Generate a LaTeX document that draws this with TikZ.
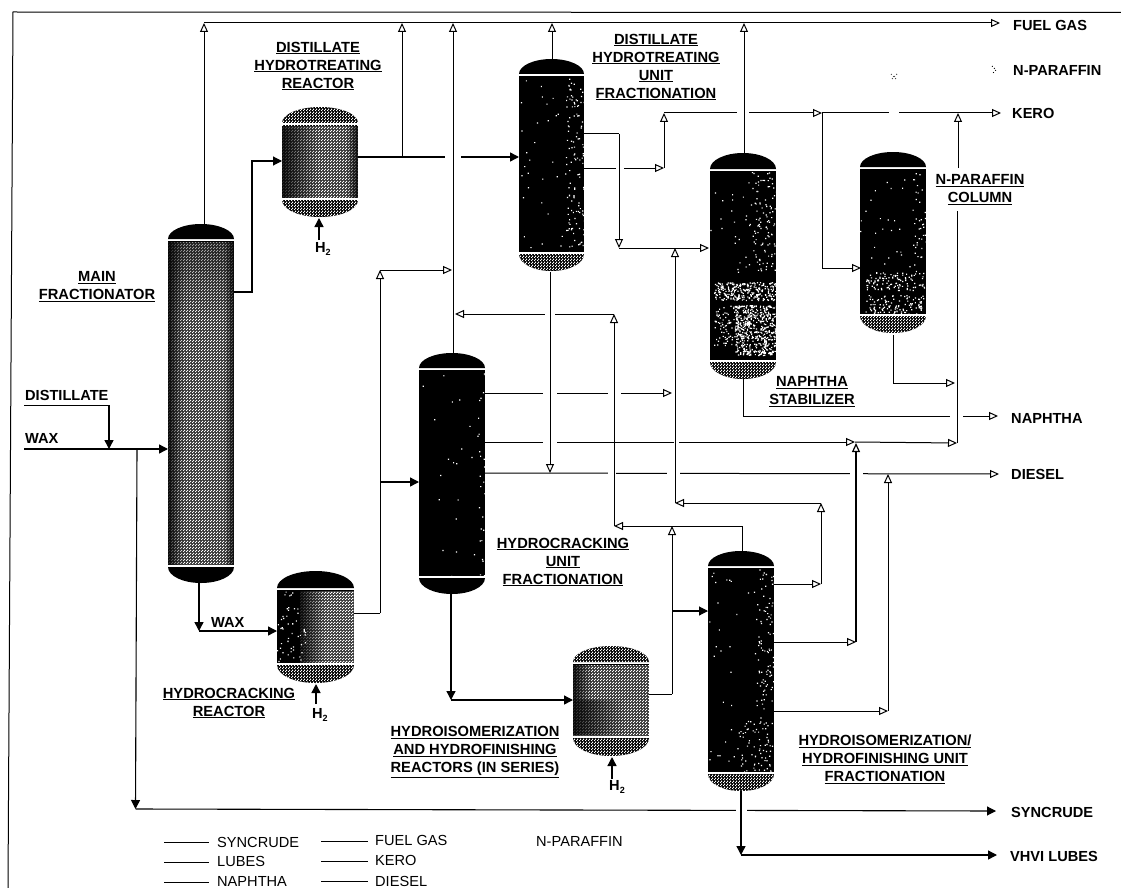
\documentclass[tikz,border=0pt]{standalone}
\usepackage{fontspec}
\setmainfont{Liberation Sans}
\usetikzlibrary{arrows.meta,patterns,fadings}
\pgfdeclarepatternformonly{dither}{\pgfpointorigin}{\pgfqpoint{3pt}{3pt}}{\pgfqpoint{3pt}{3pt}}{%
 \pgfpathrectangle{\pgfqpoint{0pt}{0pt}}{\pgfqpoint{1.45pt}{1.45pt}}%
 \pgfpathrectangle{\pgfqpoint{1.5pt}{1.5pt}}{\pgfqpoint{1.45pt}{1.45pt}}%
 \pgfusepath{fill}}
\tikzset{
 lbl/.style={font=\fontsize{14.7}{18}\selectfont\bfseries,align=center,inner sep=0pt},
 lgd/.style={font=\fontsize{14.6}{18}\selectfont,anchor=west,inner sep=0pt},
 stream/.style={font=\fontsize{14.6}{18}\selectfont\bfseries,anchor=west,inner sep=0pt},
 thin line/.style={line width=1pt,black},
 thick line/.style={line width=1.4pt,black},
 op/.style={thin line,-{Triangle[length=9pt,width=8pt,fill=white]}},
 fl/.style={thick line,-{Triangle[length=9pt,width=9pt]}},
 ht/.style={pattern=dither,pattern color=white},
 gap/.style={fill=white,draw=none},
}
\newcommand{\vessel}[9]{%
 \pgfmathsetmacro{\vw}{(#3-#2)/2}\pgfmathsetmacro{\vh}{#5-#4-1}\pgfmathsetmacro{\vb}{#7-#6-1}%
 \node[minimum width=#3pt-#2pt,minimum height=#7pt-#4pt,inner sep=0pt,outer sep=0pt] (#1) at ({(#2+#3)/2},{(#4+#7)/2}) {};
 \fill[black] (#2,#5+1) rectangle (#3,#6-1);
 \fill[black] (#2,#5-1) arc[start angle=180,end angle=0,x radius=\vw pt,y radius=\vh pt] -- cycle;
 \path[#8] (#2,#5-1) arc[start angle=180,end angle=0,x radius=\vw pt,y radius=\vh pt] -- cycle;
 \fill[black] (#2,#6+1) arc[start angle=180,end angle=360,x radius=\vw pt,y radius=\vb pt] -- cycle;
 \path[#9] (#2,#6+1) arc[start angle=180,end angle=360,x radius=\vw pt,y radius=\vb pt] -- cycle;
}
\newcommand{\halftone}[4]{\fill[ht] (#1,#2) rectangle (#3,#4);\fill[white,opacity=.22] (#1,#2) rectangle (#3,#4);}
\newcommand{\speck}[5]{\fill[white] \foreach \i in {1,...,#5}{ ({#1+rnd*(#3-#1)},{#2+rnd*(#4-#2)}) rectangle ++(1.2,1.2) };}
\newcommand{\darkl}[4]{\fill[black,opacity=.85,path fading=east] (#1,#2) rectangle (#3,#4);}
\newcommand{\darkr}[4]{\fill[black,opacity=.85,path fading=west] (#1,#2) rectangle (#3,#4);}
\newcommand{\darkt}[4]{\fill[black,opacity=.4,path fading=south] (#1,#2) rectangle (#3,#4);}
\begin{document}
\begin{tikzpicture}[x=1pt,y=-1pt]
\pgfmathsetseed{7}
\useasboundingbox (0,0) rectangle (1121,888);
\fill[white] (0,0) rectangle (1121,888);
% frame
\coordinate (fa) at (8,888);\coordinate (fb) at (13,12);\coordinate (fc) at (1121,12.5);
\draw[line width=1pt] (fa) -- (fb) -- (fc);

% ---------- vessels
\vessel{mf}{168}{234}{224}{240}{566}{583}{}{}
\halftone{168}{242}{234}{565}
\darkl{168}{242}{184}{565}\darkr{224}{242}{234}{565}\darkt{168}{242}{234}{320}
\vessel{dhr}{282}{358}{107}{124}{199}{217}{ht}{ht}
\halftone{282}{126}{358}{198}
\darkl{282}{126}{318}{198}\darkr{346}{126}{358}{198}
\vessel{dhf}{519}{584}{59}{75}{253}{271}{}{ht}
\speck{519}{77}{584}{252}{40}\speck{566}{77}{584}{252}{110}
\vessel{hcf}{419}{485}{353}{369}{577}{594}{}{}
\speck{419}{371}{485}{576}{20}\speck{478}{371}{485}{576}{25}
\vessel{hcr}{277}{354}{571}{589}{664}{683}{}{ht}
\halftone{300}{591}{354}{663}
\darkl{300}{591}{325}{663}\speck{277}{591}{305}{663}{50}
\vessel{ns}{710}{776}{153}{170}{361}{379}{}{ht}
\speck{710}{172}{776}{280}{40}\speck{752}{172}{776}{270}{90}
\speck{714}{282}{776}{300}{260}\speck{714}{305}{740}{345}{90}\speck{735}{305}{776}{355}{500}
\vessel{np}{860}{926}{152}{168}{315}{333}{}{ht}
\speck{860}{170}{926}{270}{30}\speck{912}{170}{926}{290}{35}
\speck{865}{272}{924}{290}{110}\speck{865}{295}{924}{314}{110}
\vessel{hir}{573}{649}{646}{663}{737}{756}{ht}{ht}
\halftone{573}{665}{649}{736}
\darkl{573}{700}{625}{735}\darkl{573}{665}{592}{700}
\vessel{hif}{708}{774}{551}{567}{773}{791}{}{ht}
\speck{708}{569}{774}{772}{45}\speck{756}{569}{774}{772}{110}\speck{738}{720}{760}{772}{40}

% ---------- junctions
\coordinate (fg0) at (204,23);\coordinate (fgE) at (1000,23);
\coordinate (dhrE) at (358,157);\coordinate (dhfW) at (519,157);\coordinate (dhrT) at (402,157);\coordinate (fgA) at (402,23);
\coordinate (hcfT) at (453,353);\coordinate (fgB) at (453,23);
\coordinate (dhfT) at (552,59);\coordinate (fgC) at (552,23);
\coordinate (nsT) at (744,153);\coordinate (fgD) at (744,23);
\coordinate (mfT) at (204,224);
\coordinate (mfE) at (234,292);\coordinate (m1) at (252,292);\coordinate (m2) at (252,161);\coordinate (dhrW) at (282,161);
\coordinate (h1) at (319,240);\coordinate (h1a) at (319,218);
\coordinate (h2) at (316,704);\coordinate (h2a) at (316,684);
\coordinate (h3) at (612,779);\coordinate (h3a) at (612,757);
\coordinate (dist) at (24,405);\coordinate (dist1) at (109,405);\coordinate (wax0) at (24,449);\coordinate (waxJ) at (109,449);\coordinate (mfW) at (168,449);
\coordinate (sy0) at (137,449);\coordinate (sy1) at (135.5,809);\coordinate (syE) at (996,811);
\coordinate (mfB) at (199,583);\coordinate (wx1) at (199,631);\coordinate (hcrW) at (277,631);
\coordinate (hcrE) at (354,613);\coordinate (r1) at (380,613);\coordinate (r2) at (380,270);\coordinate (r3) at (452,270);\coordinate (r4) at (380,482);\coordinate (hcfW) at (419,482);
\coordinate (hcfB) at (451,594);\coordinate (b1) at (451,700);\coordinate (hirW) at (573,700);
\coordinate (hirE) at (649,694);\coordinate (i1) at (672,694);\coordinate (i2) at (672,526);\coordinate (i3) at (672,611);\coordinate (hifW) at (708,611);
\coordinate (hifT) at (742,551);\coordinate (j1) at (742,526);\coordinate (j2) at (614,526);\coordinate (j3) at (614,314);\coordinate (j4) at (455,314);
\coordinate (k1) at (774,584);\coordinate (k2) at (821,584);\coordinate (k3) at (821,503);\coordinate (k4) at (675,503);\coordinate (k5) at (675,248);
\coordinate (l1) at (584,134);\coordinate (l2) at (619,134);\coordinate (l3) at (619,248);\coordinate (nsW) at (709,248);
\coordinate (n1) at (584,168);\coordinate (n2) at (664,168);\coordinate (n3) at (664,113);\coordinate (n4) at (822,113);\coordinate (n5) at (1001,113);
\coordinate (n6) at (822,268);\coordinate (npW) at (861,268);
\coordinate (p1) at (893,335);\coordinate (p2) at (893,383);\coordinate (p3) at (955,383);
\coordinate (q0) at (957,443);\coordinate (q1) at (957,211);\coordinate (q2) at (958,168);\coordinate (q3) at (958,113);
\coordinate (s1) at (485,442);\coordinate (s2) at (855,442);
\coordinate (t1) at (485,473);\coordinate (t2) at (999,474);
\coordinate (u1) at (485,393);\coordinate (u2) at (672,393);
\coordinate (v1) at (550,272);\coordinate (v2) at (550,473);
\coordinate (w1) at (774,642);\coordinate (w2) at (856,642);\coordinate (w3) at (856,443);
\coordinate (x1) at (774,711);\coordinate (x2) at (888,711);\coordinate (x3) at (888,474);
\coordinate (y1) at (743,379);\coordinate (y2) at (743,416);\coordinate (y3) at (998,416);
\coordinate (z1) at (741,791);\coordinate (z2) at (741,855);\coordinate (z3) at (997,855);

% ---------- long horizontals (with gaps where a line crosses)
\draw[thick line,-{Triangle[length=9pt,width=9pt]}] (dhrE) -- (dhfW);
\draw[op] (n3) -- (n4);
\draw[op] (n4) -- (n5);
\draw[op] (n1) -- (n2);
\draw[op] (u1) -- (u2);
\draw[op] (s1) -- (s2);
\draw[op] (s2) -- (q0);
\draw[op] (t1) -- (t2);
\draw[op] (y2) -- (y3);
\draw[op] (j3) -- (j4);
\draw[fl,line width=1.1pt] (sy1) -- (syE);
% gaps
\fill[gap] (445,152) rectangle (461,162);
\fill[gap] (737,108) rectangle (749,118);
\fill[gap] (889,108) rectangle (899,118);
\fill[gap] (616,163) rectangle (624,173);
\fill[gap] (543,388) rectangle (557,398);
\fill[gap] (608,388) rectangle (621,398);
\fill[gap] (543,437) rectangle (557,447);
\fill[gap] (674,437) rectangle (679,447);
\fill[gap] (608,468) rectangle (616,478);
\fill[gap] (667,468) rectangle (680,478);
\fill[gap] (850,468) rectangle (863,478);
\fill[gap] (950,411) rectangle (963,421);
\fill[gap] (736,804) rectangle (747,816);
\fill[gap] (545,309) rectangle (555,319);

% ---------- the rest
\draw[op] (fg0) -- (fgE);
\draw[op] (mfT) -- (fg0);
\draw[op] (dhrT) -- (fgA);
\draw[op] (hcfT) -- (fgB);
\draw[op] (dhfT) -- (fgC);
\draw[op] (nsT) -- (fgD);
\draw[fl,line width=1.1pt] (mfE) -- (m1) -- (m2) -- (dhrW);
\draw[fl] (h1) -- (h1a);
\draw[fl] (h2) -- (h2a);
\draw[fl] (h3) -- (h3a);
\draw[fl] (dist1) -- (waxJ);
\draw[thin line] (dist) -- (dist1);
\draw[fl] (wax0) -- (mfW);
\draw[fl,line width=1.1pt] (sy0) -- (sy1);
\draw[fl] (mfB) -- (wx1);
\draw[fl] (wx1) -- (hcrW);
\draw[thin line] (hcrE) -- (r1);
\draw[op] (r1) -- (r2);
\draw[op] (r2) -- (r3);
\draw[fl] (r4) -- (hcfW);
\draw[fl] (hcfB) -- (b1);
\draw[fl] (b1) -- (hirW);
\draw[thin line] (hirE) -- (i1);
\draw[op] (i1) -- (i2);
\draw[fl,line width=1.1pt] (i3) -- (hifW);
\draw[op] (hifT) -- (j1) -- (j2);
\draw[op] (j2) -- (j3);
\draw[op] (k1) -- (k2);
\draw[op] (k2) -- (k3);
\draw[op] (k3) -- (k4);
\draw[op] (k4) -- (k5);
\draw[thin line] (l1) -- (l2);
\draw[op] (l2) -- (l3);
\draw[op] (l3) -- (nsW);
\draw[op] (n2) -- (n3);
\draw[op] (n4) -- (n6) -- (npW);
\draw[thin line] (p1) -- (p2);
\draw[op] (p2) -- (p3);
\draw[thin line] (q0) -- (q1);
\draw[op] (q2) -- (q3);
\draw[op] (v1) -- (v2);
\draw[op] (w1) -- (w2);
\draw[op,line width=1.2pt] (w2) -- (w3);
\draw[op] (x1) -- (x2);
\draw[op] (x2) -- (x3);
\draw[thin line] (y1) -- (y2);
\draw[fl] (z1) -- (z2);
\draw[fl] (z2) -- (z3);

% ---------- faint marks of the N-paraffin stream
\draw[line width=.9pt,dotted] (992,66) -- (996,70) -- (992,74);
\draw[line width=1pt,dotted,black!70] (891,74) -- (897,80);
\draw[line width=1pt,dotted,black!70] (897,74) -- (891,80);

% ---------- unit labels
\node[lbl] (tdhr) at (318,66) {\underline{DISTILLATE}\\\underline{HYDROTREATING}\\\underline{REACTOR}};
\node[lbl] (tdhf) at (656,67) {\underline{DISTILLATE}\\\underline{HYDROTREATING}\\\underline{UNIT}\\\underline{FRACTIONATION}};
\node[lbl] (tmf) at (97,287) {\underline{MAIN}\\\underline{FRACTIONATOR}};
\node[lbl] (tnp) at (980,190) {\underline{N-PARAFFIN}\\\underline{COLUMN}};
\node[lbl] (tns) at (812,392) {\underline{NAPHTHA}\\\underline{STABILIZER}};
\node[lbl] (thcf) at (563,562) {\underline{HYDROCRACKING}\\\underline{UNIT}\\\underline{FRACTIONATION}};
\node[lbl] (thcr) at (229,703) {\underline{HYDROCRACKING}\\\underline{REACTOR}};
\node[lbl] (thir) at (475,752) {\underline{HYDROISOMERIZATION}\\\underline{AND HYDROFINISHING}\\\underline{REACTORS (IN SERIES)}};
\node[lbl] (thif) at (885,759) {\underline{HYDROISOMERIZATION/}\\\underline{HYDROFINISHING UNIT}\\\underline{FRACTIONATION}};
% ---------- stream labels
\node[stream] (sdist) at (25,395) {DISTILLATE};
\node[stream] (swax) at (25,438) {WAX};
\node[stream] (swax2) at (211,622) {WAX};
\node[stream] (sfg) at (1013,25) {FUEL GAS};
\node[stream] (snp) at (1013,70) {N-PARAFFIN};
\node[stream] (sk) at (1012,113) {KERO};
\node[stream] (sn) at (1011,418) {NAPHTHA};
\node[stream] (sd) at (1011,474) {DIESEL};
\node[stream] (ss) at (1011,812) {SYNCRUDE};
\node[stream] (sv) at (1010,856) {VHVI LUBES};
\node[stream] (hh1) at (315,249) {H\raisebox{-2.5pt}{\fontsize{9}{9}\selectfont 2}};
\node[stream] (hh2) at (312,715) {H\raisebox{-2.5pt}{\fontsize{9}{9}\selectfont 2}};
\node[stream] (hh3) at (609,787) {H\raisebox{-2.5pt}{\fontsize{9}{9}\selectfont 2}};
% ---------- legend
\foreach \xa/\xb/\ya/\nm in {164/209/842/la,164/209/862/lb,164/209/882/lc,321/368/841/ld,321/368/861/le,321/368/881/lf}{
 \coordinate (\nm0) at (\xa,\ya);\coordinate (\nm1) at (\xb,\ya);
 \draw[line width=1pt] (\nm0) -- (\nm1);
}
\node[lgd] (lt1) at (217,842) {SYNCRUDE};
\node[lgd] (lt2) at (217,861) {LUBES};
\node[lgd] (lt3) at (217,881) {NAPHTHA};
\node[lgd] (lt4) at (375,840) {FUEL GAS};
\node[lgd] (lt5) at (375,860) {KERO};
\node[lgd] (lt6) at (375,881) {DIESEL};
\node[lgd] (lt7) at (536,841) {N-PARAFFIN};
\end{tikzpicture}
\end{document}
